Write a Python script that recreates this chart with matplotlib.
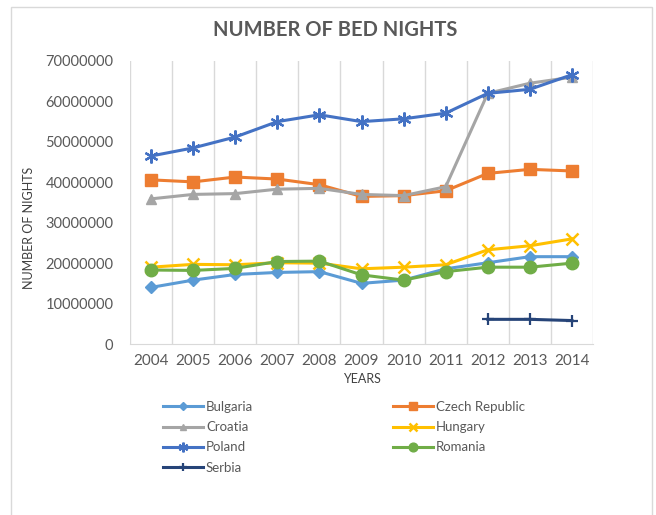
import matplotlib.pyplot as plt
import matplotlib.patches as patches
import numpy as np

#-- data -----------------------------------------------------------------------
years = ['2004', '2005', '2006', '2007', '2008', '2009', '2010', '2011', '2012', '2013', '2014']
bulgaria = [14.0, 15.8, 17.2, 17.7, 17.9, 15.0, 15.8, 18.6, 20.1, 21.6, 21.6]
czech    = [40.6, 40.1, 41.3, 40.8, 39.4, 36.5, 36.7, 37.9, 42.2, 43.2, 42.8]
croatia  = [35.9, 37.0, 37.2, 38.3, 38.5, 37.0, 36.7, 38.9, 62.0, 64.5, 66.0]
hungary  = [19.0, 19.7, 19.6, 20.1, 20.0, 18.6, 19.0, 19.6, 23.3, 24.3, 26.0]
poland   = [46.5, 48.5, 51.2, 55.0, 56.7, 55.0, 55.7, 57.1, 62.0, 63.0, 66.6]
romania  = [18.3, 18.2, 18.7, 20.4, 20.5, 17.1, 15.8, 17.9, 19.0, 19.0, 20.0]
serbia   = [None, None, None, None, None, None, None, None, 6.1, 6.1, 5.8]
#------------------------------------------------------------------------------

plt.rcParams['font.family'] = ['Lato', 'DejaVu Sans']
txt = '#595959'

fig = plt.figure(figsize=(6.56, 5.15), dpi=100)
ax = fig.add_axes([130/656, 1-344/515, (593-130)/656, (344-61)/515])

x = np.arange(len(years))
def mil(v):
    return np.array([np.nan if a is None else a*1e6 for a in v])

lw = 2.2
h_bul, = ax.plot(x, mil(bulgaria), '-', color='#5B9BD5', lw=lw, marker='D', ms=6, label='Bulgaria')
h_cze, = ax.plot(x, mil(czech), '-', color='#ED7D31', lw=lw, marker='s', ms=9, label='Czech Republic')
h_cro, = ax.plot(x, mil(croatia), '-', color='#A5A5A5', lw=lw, marker='^', ms=7, label='Croatia')
h_hun, = ax.plot(x, mil(hungary), '-', color='#FFC000', lw=lw, marker='x', ms=8, mew=1.8, label='Hungary')
h_pol, = ax.plot(x, mil(poland), '-', color='#4472C4', lw=lw, marker=(6, 2, 0), ms=10, mew=1.6, label='Poland')
h_rom, = ax.plot(x, mil(romania), '-', color='#70AD47', lw=lw, marker='o', ms=9, label='Romania')
h_ser, = ax.plot(x, mil(serbia), '-', color='#264478', lw=lw, marker='+', ms=8, mew=1.6, label='Serbia')

ax.set_xlim(-0.5, len(years)-0.5)
ax.set_ylim(0, 70e6)
ax.set_yticks(np.arange(0, 70e6+1, 10e6))
ax.set_yticklabels(['%d' % v for v in np.arange(0, 70e6+1, 10e6)])
ax.set_xticks(x)
ax.set_xticklabels(years)
ax.set_xticks(np.arange(-0.5, len(years), 1), minor=True)
ax.grid(which='minor', axis='x', color='#D9D9D9', lw=1)
ax.tick_params(which='both', length=0)
ax.tick_params(axis='y', colors=txt, labelsize=10.5, pad=12)
ax.tick_params(axis='x', colors=txt, labelsize=11, pad=7)
for s in ['top', 'left', 'right']:
    ax.spines[s].set_visible(False)
ax.spines['bottom'].set_color('#D9D9D9')

ax.set_ylabel('NUMBER OF NIGHTS', fontsize=9, color='#404040')
ax.yaxis.set_label_coords(-0.205, 0.41)
ax.set_xlabel('YEARS', fontsize=9, color='#404040', labelpad=4)
fig.text(335/656, 1-30/515, 'NUMBER OF BED NIGHTS', ha='center', va='center',
         fontsize=14.5, fontweight='bold', color=txt)

#-- legend in two columns
kw = dict(frameon=False, fontsize=9.5, handlelength=3.0, handletextpad=0.25,
          labelspacing=0.62, borderpad=0, borderaxespad=0, loc='upper left',
          labelcolor=txt)
fig.legend([h_bul, h_cro, h_pol, h_ser], ['Bulgaria', 'Croatia', 'Poland', 'Serbia'],
           bbox_to_anchor=(163/656, 1-401/515), **kw)
fig.legend([h_cze, h_hun, h_rom], ['Czech Republic', 'Hungary', 'Romania'],
           bbox_to_anchor=(393/656, 1-401/515), **kw)
for leg in fig.legends:
    for lh in leg.legend_handles:
        lh.set_markersize(lh.get_markersize()*0.7)

#-- frame around the chart
fig.patches.append(patches.Rectangle((11/656, -0.02), (652-11)/656, 1-7/515+0.02,
                                     transform=fig.transFigure, fill=False,
                                     edgecolor='#D9D9D9', lw=1))

plt.savefig('out.png', dpi=100)
